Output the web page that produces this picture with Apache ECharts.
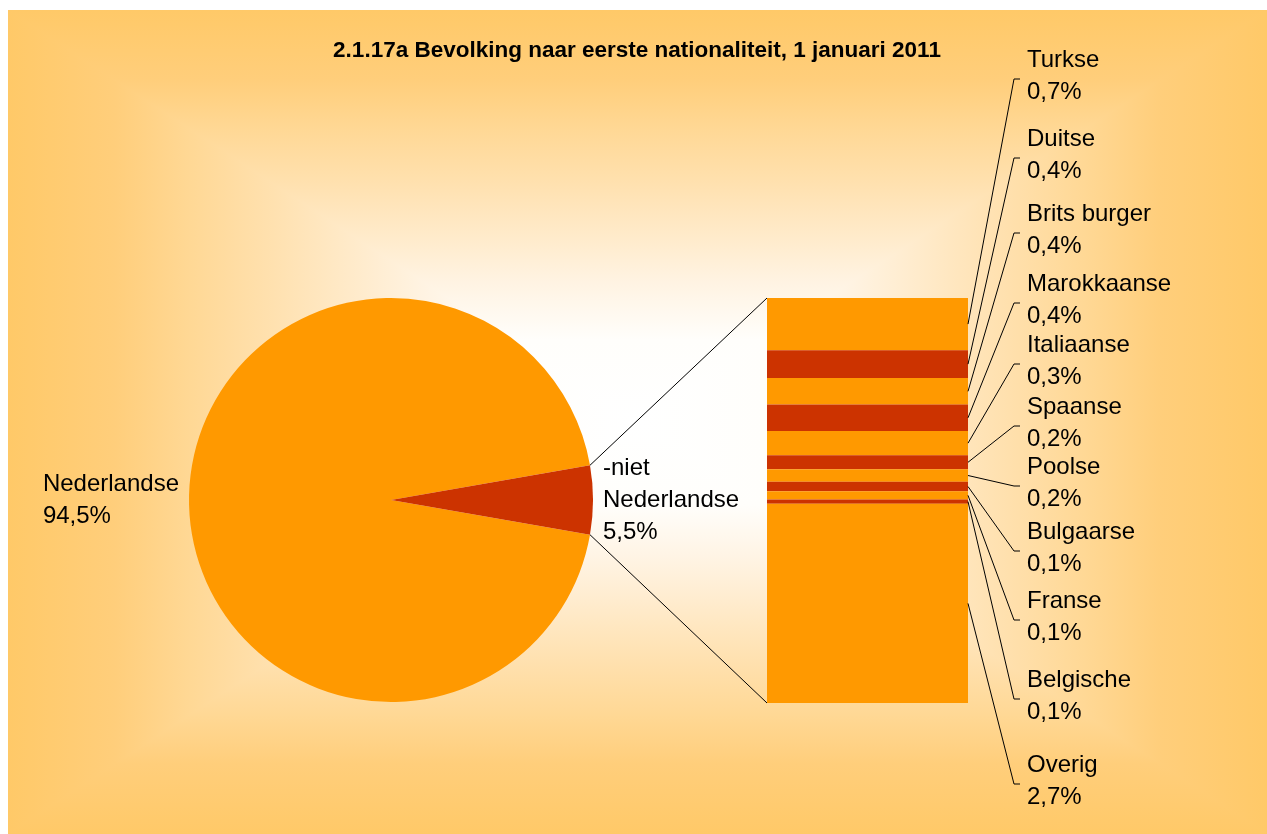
<!DOCTYPE html>
<html>
<head>
<meta charset="utf-8">
<script src="https://cdn.jsdelivr.net/npm/echarts@6/dist/echarts.min.js"></script>
<style>
  html, body { margin: 0; padding: 0; background: #fff; }
  #main { width: 1267px; height: 834px; }
</style>
</head>
<body>
<div id="main"></div>
<script>
/*************** data **************/
var pieNames = ['Nederlandse', '-niet\nNederlandse'];
var pieValues = [94.5, 5.5];

var barNames = ['Turkse', 'Duitse', 'Brits burger', 'Marokkaanse', 'Italiaanse', 'Spaanse',
                'Poolse', 'Bulgaarse', 'Franse', 'Belgische', 'Overig'];
var barValues = [0.71, 0.38, 0.36, 0.36, 0.33, 0.19, 0.17, 0.13, 0.11, 0.06, 2.71];

/*************** layout **************/
var FONT = '"Liberation Sans", Arial, sans-serif';
var ORANGE = '#FF9900', RED = '#CC3300';
var pieCx = 391, pieCy = 500, pieR = 202;
var barLeft = 767, barW = 201, barTop = 298, barH = 405;
var labelX = 1027;
// y of the leader-line tick for each label (Excel placed them)
var labelY = [79, 158, 233, 303, 364, 426, 486, 551, 620, 699, 784];

function pct(v) { return v.toFixed(1).replace('.', ',') + '%'; }

var barTotal = 0;
barValues.forEach(function (v) { barTotal += v; });

// mid point of every stacked segment, used for the leader lines
var leaderData = [];
var acc = 0;
barValues.forEach(function (v, i) {
  leaderData.push([0, acc + v / 2, i]);
  acc += v;
});

/*************** background: rectangular "from center" gradient **************/
var bx0 = 8, by0 = 10, bx1 = 1267, by1 = 834;
var bcx = (bx0 + bx1) / 2, bcy = (by0 + by1) / 2;
// [distance from centre (0..1), colour]
var bgStops = [[0, '#FFFFFF'], [0.2, '#FFFEFB'], [0.34, '#FFF3E2'], [0.59, '#FFE0AD'],
               [0.71, '#FFD895'], [0.83, '#FFCE7B'], [1, '#FFC968']];

function vStops() {
  var s = [];
  bgStops.slice().reverse().forEach(function (p) { s.push({ offset: 0.5 - p[0] / 2, color: p[1] }); });
  bgStops.forEach(function (p) { if (p[0] > 0) s.push({ offset: 0.5 + p[0] / 2, color: p[1] }); });
  return s;
}
function hStops() {
  return bgStops.slice().reverse().map(function (p) { return { offset: 1 - p[0], color: p[1] }; });
}

var bgGraphic = [
  {
    type: 'rect', z: -10, silent: true,
    shape: { x: bx0, y: by0, width: bx1 - bx0, height: by1 - by0 },
    style: { fill: { type: 'linear', x: 0, y: by0, x2: 0, y2: by1, global: true, colorStops: vStops() } }
  },
  {
    type: 'polygon', z: -9, silent: true,
    shape: { points: [[bx0, by0], [bcx, bcy], [bx0, by1]] },
    style: { fill: { type: 'linear', x: bx0, y: 0, x2: bcx, y2: 0, global: true, colorStops: hStops() } }
  },
  {
    type: 'polygon', z: -9, silent: true,
    shape: { points: [[bx1, by0], [bcx, bcy], [bx1, by1]] },
    style: { fill: { type: 'linear', x: bx1, y: 0, x2: bcx, y2: 0, global: true, colorStops: hStops() } }
  }
];

/*************** chart **************/
var chart = echarts.init(document.getElementById('main'));

var barSeries = barNames.map(function (name, i) {
  return {
    name: name,
    type: 'bar',
    stack: 'niet',
    barWidth: '100%',
    data: [barValues[i]],
    itemStyle: { color: i % 2 === 0 ? ORANGE : RED, borderWidth: 0 },
    emphasis: { disabled: true },
    silent: true
  };
});

function renderLeader(params, api) {
  var i = api.value(2);
  var pt = api.coord([api.value(0), api.value(1)]);
  var half = api.size([1, 0])[0] / 2;
  var ty = labelY[i];
  return {
    type: 'group',
    children: [
      {
        type: 'polyline',
        shape: { points: [[pt[0] + half, pt[1]], [labelX - 13, ty], [labelX - 7, ty]] },
        style: { stroke: '#000', lineWidth: 1, fill: null }
      },
      {
        type: 'text',
        x: labelX, y: ty - 3,
        style: {
          text: barNames[i] + '\n' + pct(barValues[i]),
          fill: '#000', fontFamily: FONT, fontSize: 24, lineHeight: 32,
          align: 'left', verticalAlign: 'middle'
        }
      }
    ]
  };
}

function renderConnector(params, api) {
  var pt = api.coord([api.value(0), api.value(1)]);
  var half = api.size([1, 0])[0] / 2;
  var theta = pieValues[1] / (pieValues[0] + pieValues[1]) * Math.PI;
  var sign = params.dataIndex === 0 ? -1 : 1;
  return {
    type: 'line',
    shape: {
      x1: pieCx + pieR * Math.cos(theta), y1: pieCy + sign * pieR * Math.sin(theta),
      x2: pt[0] - half, y2: pt[1]
    },
    style: { stroke: '#000', lineWidth: 1 }
  };
}

var option = {
  animation: false,
  graphic: { elements: bgGraphic },
  title: {
    text: '2.1.17a Bevolking naar eerste nationaliteit, 1 januari 2011',
    left: 632,
    textAlign: 'center',
    top: 34,
    textStyle: { color: '#000', fontFamily: FONT, fontSize: 22.5, fontWeight: 'bold' }
  },
  grid: { left: barLeft, top: barTop, width: barW, height: barH },
  xAxis: { type: 'category', data: ['niet'], show: false },
  yAxis: { type: 'value', min: 0, max: barTotal, inverse: true, show: false },
  series: [
    {
      type: 'pie',
      center: [pieCx, pieCy],
      radius: pieR,
      startAngle: -pieValues[1] / (pieValues[0] + pieValues[1]) * 180,
      clockwise: true,
      avoidLabelOverlap: false,
      silent: true,
      data: pieNames.map(function (n, i) {
        return { name: n, value: pieValues[i], itemStyle: { color: i === 0 ? ORANGE : RED } };
      }),
      itemStyle: { borderWidth: 0 },
      label: {
        position: 'outside',
        color: '#000', fontFamily: FONT, fontSize: 24, lineHeight: 32,
        distanceToLabelLine: 10,
        formatter: function (p) { return p.name + '\n' + pct(p.value); }
      },
      labelLine: { show: false, length: 0, length2: 0 },
      labelLayout: function (p) {
        return {
          x: p.labelRect.x,
          y: p.labelRect.y + p.labelRect.height / 2,
          align: 'left',
          verticalAlign: 'middle'
        };
      }
    }
  ].concat(barSeries).concat([
    {
      type: 'custom',
      renderItem: renderLeader,
      data: leaderData,
      silent: true,
      z: 5
    },
    {
      type: 'custom',
      renderItem: renderConnector,
      data: [[0, 0], [0, barTotal]],
      silent: true,
      z: 5
    }
  ])
};

chart.setOption(option);
</script>
</body>
</html>
